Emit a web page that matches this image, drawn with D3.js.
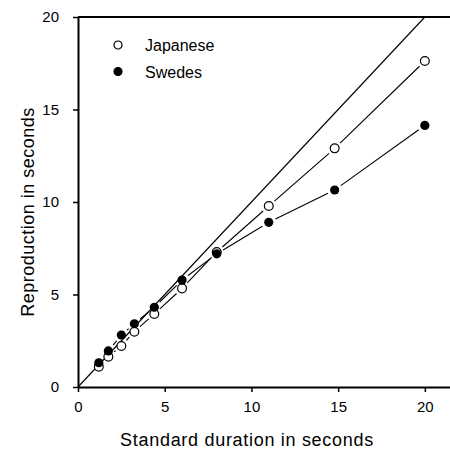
<html>
    <head>
       <style>

body {
    margin: 0;
    background: #fff;
}
text {
    font-family: "Liberation Sans", Arial, sans-serif;
    fill: #000;
}
.axis path {
    stroke: #000;
    stroke-width: 2px;
}
.axis line {
    stroke: #000;
    stroke-width: 1.5px;
}
.axis text {
    font-size: 15px;
}

       </style>
    </head>
    <body>

        <svg></svg>

        <script src="https://cdn.jsdelivr.net/npm/d3@7/dist/d3.min.js"></script>

        <script>
// standard durations (s) and mean reproductions (s)
var durations = [1.2, 1.75, 2.5, 3.25, 4.4, 6, 8, 11, 14.8, 20];
var japanese  = [1.1, 1.64, 2.22, 2.99, 3.95, 5.33, 7.3, 9.78, 12.9, 17.62];
var swedes    = [1.31, 1.95, 2.81, 3.42, 4.31, 5.78, 7.2, 8.9, 10.65, 14.14];
var xTicks = [0, 5, 10, 15, 20];
var yTicks = [0, 5, 10, 15, 20];
var groups = ["Japanese", "Swedes"];

var width = 450,
    height = 450;

var svg = d3.select("svg")
    .attr("width", width)
    .attr("height", height);

var x = d3.scaleLinear()
    .domain([0, 21.45])
    .range([78, 450]);

var y = d3.scaleLinear()
    .domain([0, 20])
    .range([387, 17]);

// x axis
svg.append("g")
    .attr("class", "axis")
    .attr("transform", "translate(0," + y(0) + ")")
    .call(d3.axisBottom(x).tickValues(xTicks).tickSize(5).tickSizeOuter(0).tickPadding(9));

// y axis
svg.append("g")
    .attr("class", "axis")
    .attr("transform", "translate(" + x(0) + ",0)")
    .call(d3.axisLeft(y).tickValues(yTicks).tickSize(5).tickSizeOuter(0).tickPadding(14));

svg.selectAll(".axis text").attr("font-family", null);

// top frame line
svg.append("line")
    .attr("x1", x(0)).attr("x2", x(21.45))
    .attr("y1", y(20)).attr("y2", y(20))
    .attr("stroke", "#000")
    .attr("stroke-width", 2);

// identity line
svg.append("line")
    .attr("x1", x(0)).attr("y1", y(0))
    .attr("x2", x(20)).attr("y2", y(20))
    .attr("stroke", "#000")
    .attr("stroke-width", 1.1);

// connecting segments, broken short of each marker
var gap = 7.5;
function segments(vals) {
  var segs = [];
  for (var i = 0; i < vals.length - 1; i++) {
    var x1 = x(durations[i]), y1 = y(vals[i]),
        x2 = x(durations[i + 1]), y2 = y(vals[i + 1]);
    var len = Math.hypot(x2 - x1, y2 - y1);
    if (len <= 2 * gap) continue;
    var ux = (x2 - x1) / len, uy = (y2 - y1) / len;
    segs.push([x1 + ux * gap, y1 + uy * gap, x2 - ux * gap, y2 - uy * gap]);
  }
  return segs;
}

[japanese, swedes].forEach(function(vals) {
  svg.append("g").selectAll("line")
      .data(segments(vals))
    .enter().append("line")
      .attr("x1", function(d) { return d[0]; })
      .attr("y1", function(d) { return d[1]; })
      .attr("x2", function(d) { return d[2]; })
      .attr("y2", function(d) { return d[3]; })
      .attr("stroke", "#000")
      .attr("stroke-width", 1.1);
});

// markers
svg.append("g").selectAll("circle")
    .data(japanese)
  .enter().append("circle")
    .attr("cx", function(d, i) { return x(durations[i]); })
    .attr("cy", function(d) { return y(d); })
    .attr("r", 4.4)
    .attr("fill", "#fff")
    .attr("stroke", "#000")
    .attr("stroke-width", 1.2);

svg.append("g").selectAll("circle")
    .data(swedes)
  .enter().append("circle")
    .attr("cx", function(d, i) { return x(durations[i]); })
    .attr("cy", function(d) { return y(d); })
    .attr("r", 4.6)
    .attr("fill", "#000");

// legend
var legend = svg.append("g").selectAll("g")
    .data(groups)
  .enter().append("g")
    .attr("transform", function(d, i) { return "translate(118," + (45 + i * 26.5) + ")"; });

legend.append("circle")
    .attr("r", 4)
    .attr("fill", function(d, i) { return i ? "#000" : "#fff"; })
    .attr("stroke", "#000")
    .attr("stroke-width", 1.2);

legend.append("text")
    .attr("x", 27)
    .attr("y", 6)
    .style("font-size", "16px")
    .text(function(d) { return d; });

// axis titles
svg.append("text")
    .attr("x", 247)
    .attr("y", 446)
    .attr("text-anchor", "middle")
    .style("font-size", "18px")
    .style("letter-spacing", "0.7px")
    .text("Standard duration in seconds");

svg.append("text")
    .attr("transform", "translate(34,212) rotate(-90)")
    .attr("text-anchor", "middle")
    .style("font-size", "18px")
    .style("letter-spacing", "0.5px")
    .text("Reproduction in seconds");

        </script>
    </body>
</html>
